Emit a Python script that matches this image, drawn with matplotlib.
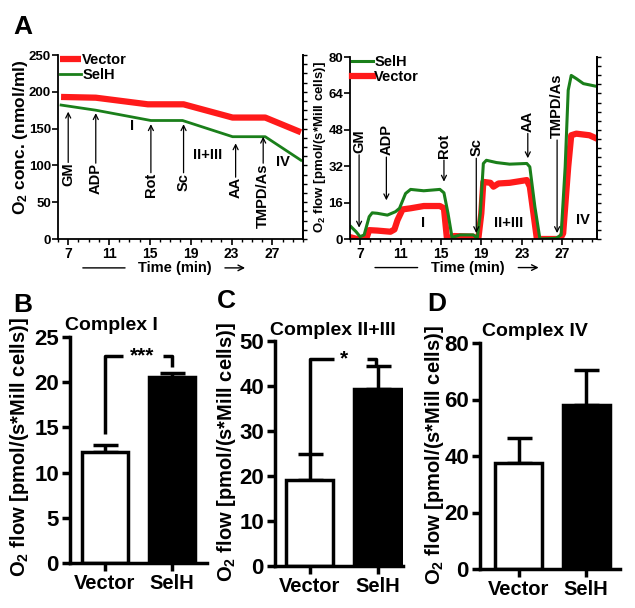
import matplotlib.pyplot as plt
import numpy as np

plt.rcParams['font.family'] = ['Liberation Sans', 'DejaVu Sans']
plt.rcParams['font.weight'] = 'bold'
plt.rcParams['mathtext.fontset'] = 'custom'
plt.rcParams['mathtext.rm'] = 'Liberation Sans:bold'
plt.rcParams['mathtext.it'] = 'Liberation Sans:bold'
plt.rcParams['mathtext.bf'] = 'Liberation Sans:bold'

RED = '#ff1a1a'
GREEN = '#1a7f1a'

# ---- panel A, left: O2 concentration ----
conc_t_vector = [6.3, 9.7, 14.8, 18.3, 23.1, 26.3, 29.8]
conc_vector = [193, 192, 183, 183, 165, 165, 145]
conc_t_selh = [6.3, 9.7, 15.1, 18.2, 23.1, 26.3, 29.8]
conc_selh = [182, 175, 161, 161, 139, 139, 107]

conc_events = ['GM', 'ADP', 'Rot', 'Sc', 'AA', 'TMPD/As']
conc_event_t = [7.0, 9.7, 15.1, 18.3, 23.4, 26.1]
conc_event_head = [173, 171, 156, 156, 130, 139]
conc_event_label_top = [104, 103, 90, 90, 84, 103]
conc_regions = ['I', 'II+III', 'IV']
conc_region_t = [13.3, 20.7, 28.0]
conc_region_y = [153, 114, 105]

# ---- panel A, right: O2 flow ----
flow_t_selh = [6.1, 6.6, 7.0, 7.4, 7.9, 8.2, 8.7, 9.7, 10.5, 10.9, 11.5, 12.0, 13.3,
               14.9, 15.3, 15.7, 16.1, 16.9, 18.2, 18.6, 18.9, 19.2, 19.5, 20.5, 21.8,
               23.5, 23.8, 24.3, 24.8, 26.4, 26.9, 27.3, 27.6, 27.9, 28.4, 29.1, 30.4]
flow_selh = [5.4, 3.2, 1.0, 1.8, 9.8, 11.5, 11.3, 10.5, 12.0, 13.5, 20.0, 21.8, 21.2,
             21.8, 20.3, 11.3, 0.7, 1.8, 1.8, 0.4, 11.3, 33.2, 34.6, 33.6, 32.9,
             33.2, 31.7, 14.2, 0.0, 0.3, 1.8, 31.7, 65.4, 71.9, 70.5, 68.3, 67.1]
flow_t_vector = [6.1, 6.7, 7.6, 7.9, 8.7, 10.0, 10.4, 10.7, 11.2, 12.0, 13.3, 14.9, 15.3,
                 15.6, 16.3, 18.2, 18.7, 19.0, 19.2, 19.9, 20.2, 20.7, 21.8, 23.5, 23.8,
                 24.5, 26.8, 27.1, 27.6, 27.9, 28.4, 29.7, 30.4]
flow_vector = [0.7, 0.0, 0.0, 3.9, 3.7, 3.2, 4.2, 8.3, 13.0, 13.5, 14.5, 14.5, 13.5,
               0.0, 1.3, 1.0, 0.0, 11.3, 25.1, 24.7, 23.0, 24.4, 24.7, 25.9, 23.0,
               0.0, 0.0, 2.5, 31.7, 45.6, 46.3, 45.6, 44.2]

flow_events = ['GM', 'ADP', 'Rot', 'Sc', 'AA', 'TMPD/As']
flow_event_t = [6.9, 9.6, 15.3, 18.5, 23.6, 26.5]
flow_event_tail = [37.0, 36.0, 34.7, 35.5, 46.4, 43.5]
flow_event_head = [5.0, 17.0, 25.2, 2.6, 35.5, 2.6]
flow_regions = ['I', 'II+III', 'IV']
flow_region_t = [13.2, 21.7, 29.1]
flow_region_y = [7, 7, 8.4]

# ---- panels B-D: bar charts ----
groups = ['Vector', 'SelH']
complex_titles = ['Complex I', 'Complex II+III', 'Complex IV']
complex_means = [[12.3, 20.6], [19.2, 39.4], [37.6, 58.2]]
complex_errs = [[0.8, 0.4], [5.8, 5.1], [8.6, 12.3]]
complex_ymax = [25, 50, 80]
complex_ystep = [5, 10, 20]

W, H = 635, 608
fig = plt.figure(figsize=(W / 100, H / 100), dpi=100)


def box(x0, y0, x1, y1):
    return [x0 / W, 1 - y1 / H, (x1 - x0) / W, (y1 - y0) / H]


def time_axis(ax, xlim):
    ax.set_xlim(*xlim)
    ax.set_xticks([7, 11, 15, 19, 23, 27])
    ax.set_xticks(np.arange(6, 31), minor=True)
    ax.tick_params(axis='x', which='major', length=4, width=1.2, labelsize=10, pad=1.5)
    ax.tick_params(axis='x', which='minor', length=2.5, width=1)
    ax.tick_params(axis='y', length=4, width=1.2, labelsize=9.5, pad=1)
    for s in ['left', 'bottom', 'right']:
        ax.spines[s].set_linewidth(1.3)
    ax.spines['top'].set_visible(False)
    ax.annotate('', xy=(0.285, -0.157), xytext=(0.09, -0.157), xycoords='axes fraction',
                arrowprops=dict(arrowstyle='-', lw=1))
    ax.text(0.475, -0.157, 'Time (min)', transform=ax.transAxes, ha='center', va='center',
            fontsize=10.5)
    ax.annotate('', xy=(0.775, -0.157), xytext=(0.67, -0.157), xycoords='axes fraction',
                arrowprops=dict(arrowstyle='->', lw=1, mutation_scale=10))


# left A
axc = fig.add_axes(box(58, 55, 303, 239))
axc.plot(conc_t_vector, conc_vector, color=RED, lw=4.5, label='Vector', solid_capstyle='butt')
axc.plot(conc_t_selh, conc_selh, color=GREEN, lw=2, label='SelH')
axc.set_ylim(0, 250)
axc.set_yticks(np.arange(0, 251, 50))
time_axis(axc, (6.33, 29.8))
sec = axc.secondary_yaxis('right')
sec.set_yticks(np.arange(0, 251, 12.5))
sec.set_yticklabels([])
sec.tick_params(length=3, width=1)
sec.spines['right'].set_linewidth(1.3)
for name, t, head, top in zip(conc_events, conc_event_t, conc_event_head, conc_event_label_top):
    axc.annotate('', xy=(t, head), xytext=(t, top),
                 arrowprops=dict(arrowstyle='->', lw=0.9, mutation_scale=9, shrinkA=0, shrinkB=0))
    axc.text(t, top, name, rotation=90, ha='center', va='top', fontsize=10.5)
for name, t, y in zip(conc_regions, conc_region_t, conc_region_y):
    axc.text(t, y, name, ha='center', va='center', fontsize=10.5)
axc.legend(loc='upper left', bbox_to_anchor=(0.01, 1.01), frameon=False, fontsize=10.5,
           handlelength=1.4, handletextpad=0.1, labelspacing=0.05, borderpad=0, borderaxespad=0)
fig.text(21 / W, 1 - 137 / H, 'O$_2$ conc. (nmol/ml)', rotation=90, ha='center', va='center',
         fontsize=12.5)

# right A
axf = fig.add_axes(box(350, 57, 597, 239))
axf.plot(flow_t_vector, flow_vector, color=RED, lw=4.5, label='Vector')
axf.plot(flow_t_selh, flow_selh, color=GREEN, lw=2.2, label='SelH')
axf.set_ylim(0, 80)
axf.set_yticks(np.arange(0, 81, 16))
time_axis(axf, (6.1, 30.45))
sec2 = axf.secondary_yaxis('right')
sec2.set_yticks(np.arange(0, 81, 4))
sec2.set_yticklabels([])
sec2.tick_params(length=3, width=1)
sec2.spines['right'].set_linewidth(1.3)
for name, t, tail, head in zip(flow_events, flow_event_t, flow_event_tail, flow_event_head):
    axf.annotate('', xy=(t, head), xytext=(t, tail),
                 arrowprops=dict(arrowstyle='->', lw=0.9, mutation_scale=9, shrinkA=0, shrinkB=0))
    axf.text(t, tail + 0.8, name, rotation=90, ha='center', va='bottom', fontsize=10.5)
for name, t, y in zip(flow_regions, flow_region_t, flow_region_y):
    axf.text(t, y, name, ha='center', va='center', fontsize=10.5)
h, l = axf.get_legend_handles_labels()
axf.legend(h[::-1], l[::-1], loc='upper left', bbox_to_anchor=(0.01, 1.01), frameon=False,
           fontsize=10.5, handlelength=1.4, handletextpad=0.1, labelspacing=0.05, borderpad=0,
           borderaxespad=0)
fig.text(320 / W, 1 - 147 / H, 'O$_2$ flow [pmol/(s*Mill cells)]', rotation=90, ha='center',
         va='center', fontsize=9.5)

# bar panels
bar_boxes = [(70, 337, 207, 563), (275, 341, 403, 566), (480, 343, 620, 569)]
bar_xlims = [(-0.52, 1.52), (-0.51, 1.37), (-0.57, 1.5)]
ylabel_pos = [(20, 447), (226, 452), (435, 455)]
title_pos = [(65, 317), (270, 322), (482, 323)]
letter_pos = [(13, 293), (217, 289), (427, 292)]
bar_axes = []
for i in range(3):
    ax = fig.add_axes(box(*bar_boxes[i]))
    means = complex_means[i]
    errs = complex_errs[i]
    ax.bar([0, 1], means, width=0.69, color=['white', 'black'], edgecolor='black', lw=2.5,
           zorder=2)
    ax.errorbar([0, 1], means, yerr=[[0, 0], errs], fmt='none', ecolor='black', elinewidth=2.5,
                capsize=9, capthick=2.5, zorder=1)
    ax.set_xlim(*bar_xlims[i])
    ax.set_ylim(0, complex_ymax[i])
    ax.set_yticks(np.arange(0, complex_ymax[i] + 1, complex_ystep[i]))
    ax.set_xticks([0, 1])
    ax.set_xticklabels(groups)
    ax.tick_params(axis='both', length=6, width=2.5, labelsize=16, pad=2)
    ax.tick_params(axis='x', labelsize=14.5)
    for s in ['top', 'right']:
        ax.spines[s].set_visible(False)
    for s in ['left', 'bottom']:
        ax.spines[s].set_linewidth(2.5)
    fig.text(ylabel_pos[i][0] / W, 1 - ylabel_pos[i][1] / H, 'O$_2$ flow [pmol/(s*Mill cells)]',
             rotation=90, ha='center', va='center', fontsize=14.5)
    fig.text(title_pos[i][0] / W, 1 - title_pos[i][1] / H, complex_titles[i], ha='left',
             va='top', fontsize=14)
    fig.text(letter_pos[i][0] / W, 1 - letter_pos[i][1] / H, 'BCD'[i], ha='left', va='top',
             fontsize=19)
    bar_axes.append(ax)

fig.text(13 / W, 1 - 15 / H, 'A', ha='left', va='top', fontsize=19)

# significance brackets
axb = bar_axes[0]
axb.plot([0, 0, 0.27], [14.3, 22.9, 22.9], color='black', lw=2.5, solid_capstyle='butt')
axb.plot([0.87, 1.0, 1.0], [22.9, 22.9, 21.7], color='black', lw=2.5, solid_capstyle='butt')
axb.text(0.56, 22.9, '***', ha='center', va='center', fontsize=15)
axcc = bar_axes[1]
axcc.plot([0, 0, 0.35], [25, 46, 46], color='black', lw=2.5, solid_capstyle='butt')
axcc.plot([0.84, 0.98, 0.98], [46, 46, 44.5], color='black', lw=2.5, solid_capstyle='butt')
axcc.text(0.51, 46, '*', ha='center', va='center', fontsize=15)

fig.savefig('out.png', dpi=100)
